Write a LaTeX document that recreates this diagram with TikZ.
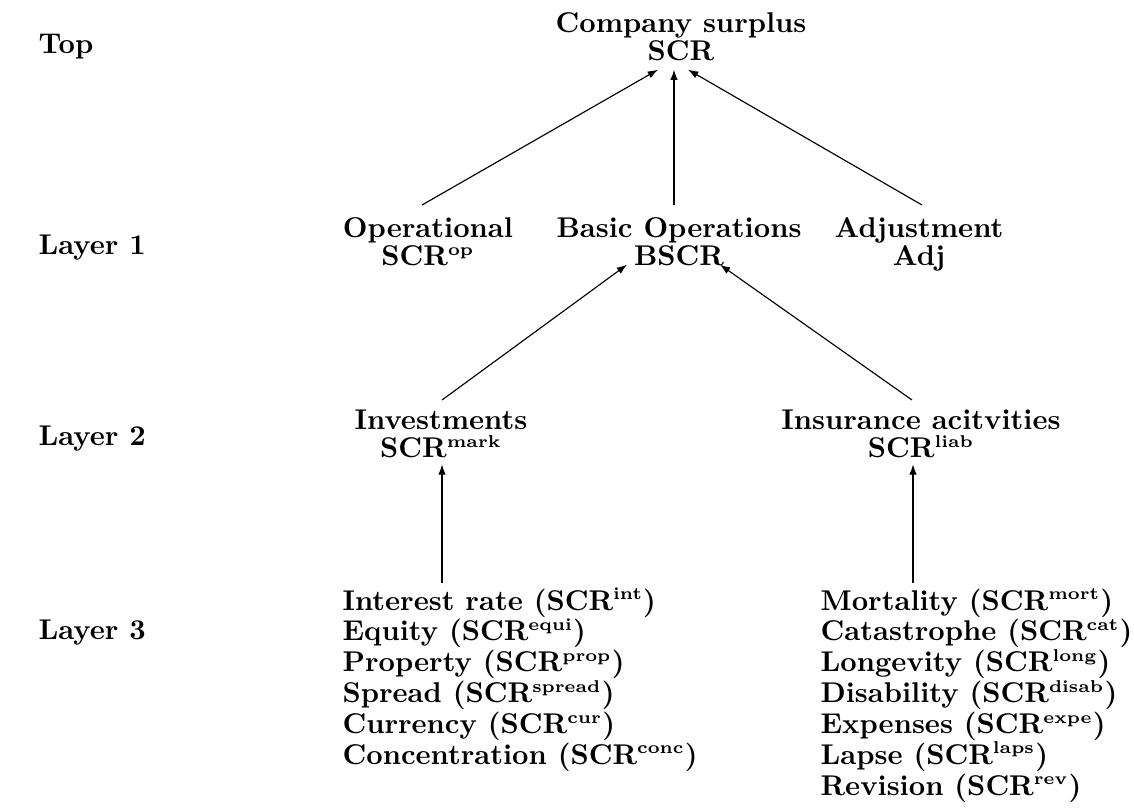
\documentclass[tikz,border=0pt]{standalone}
\usetikzlibrary{arrows.meta,calc}
\newcommand\hsup[1]{\smash{\textsuperscript{\fontsize{6}{6}\selectfont\bfseries #1}}}
\begin{document}
\begin{tikzpicture}[x=0.35pt,y=-0.35pt,
  lbl/.style={font=\bfseries, inner sep=0pt, anchor=base west},
  box/.style={font=\bfseries\fontsize{10}{9.9}\selectfont, align=center, inner sep=0pt, anchor=north},
  lst/.style={font=\bfseries\fontsize{10}{10.8}\selectfont, align=left, inner sep=0pt, anchor=north west},
  arr/.style={-{Latex[length=3.6pt,width=2.6pt]}, line width=0.4pt}]
\useasboundingbox (0,0) rectangle (1134,807);
\node[lbl] (ltop) at (38,53) {Top};
\node[lbl] (l1) at (38,254) {Layer 1};
\node[lbl] (l2) at (38,445) {Layer 2};
\node[lbl] (l3) at (38,639) {Layer 3};

\node[box] (top) at (681,12) {Company surplus\\SCR};
\node[box] (op) at (428,217) {Operational\\SCR\hsup{op}};
\node[box] (basic) at (679,217) {Basic Operations\\BSCR};
\node[box] (adj) at (919,217) {Adjustment\\Adj};
\node[box] (inv) at (441,409) {Investments\\SCR\hsup{mark}};
\node[box] (ins) at (921,409) {Insurance acitvities\\SCR\hsup{liab}};

\node[lst] (invl) at (342,588) {Interest rate (SCR\hsup{int})\\Equity (SCR\hsup{equi})\\Property (SCR\hsup{prop})\\Spread (SCR\hsup{spread})\\Currency (SCR\hsup{cur})\\Concentration (SCR\hsup{conc})};
\node[lst] (insl) at (820,588) {Mortality (SCR\hsup{mort})\\Catastrophe (SCR\hsup{cat})\\Longevity (SCR\hsup{long})\\Disability (SCR\hsup{disab})\\Expenses (SCR\hsup{expe})\\Lapse (SCR\hsup{laps})\\Revision (SCR\hsup{rev})};

\draw[arr] ($(op.north)+(-6,-12)$) -- ($(top.south)+(-23,8)$);
\draw[arr] ($(basic.north)+(-5,-12)$) -- ($(top.south)+(-7,8)$);
\draw[arr] ($(adj.north)+(3,-12)$) -- ($(top.south)+(7,8)$);
\draw[arr] ($(inv.north)+(1,-9)$) -- ($(basic.south)+(-52,-2)$);
\draw[arr] ($(ins.north)+(-9,-9)$) -- ($(basic.south)+(41,-2)$);
\draw[arr] ($(inv.south |- invl.north)+(1,-5)$) -- ($(inv.south)+(1,6)$);
\draw[arr] ($(ins.south |- insl.north)+(-8,-5)$) -- ($(ins.south)+(-8,6)$);
\end{tikzpicture}
\end{document}
